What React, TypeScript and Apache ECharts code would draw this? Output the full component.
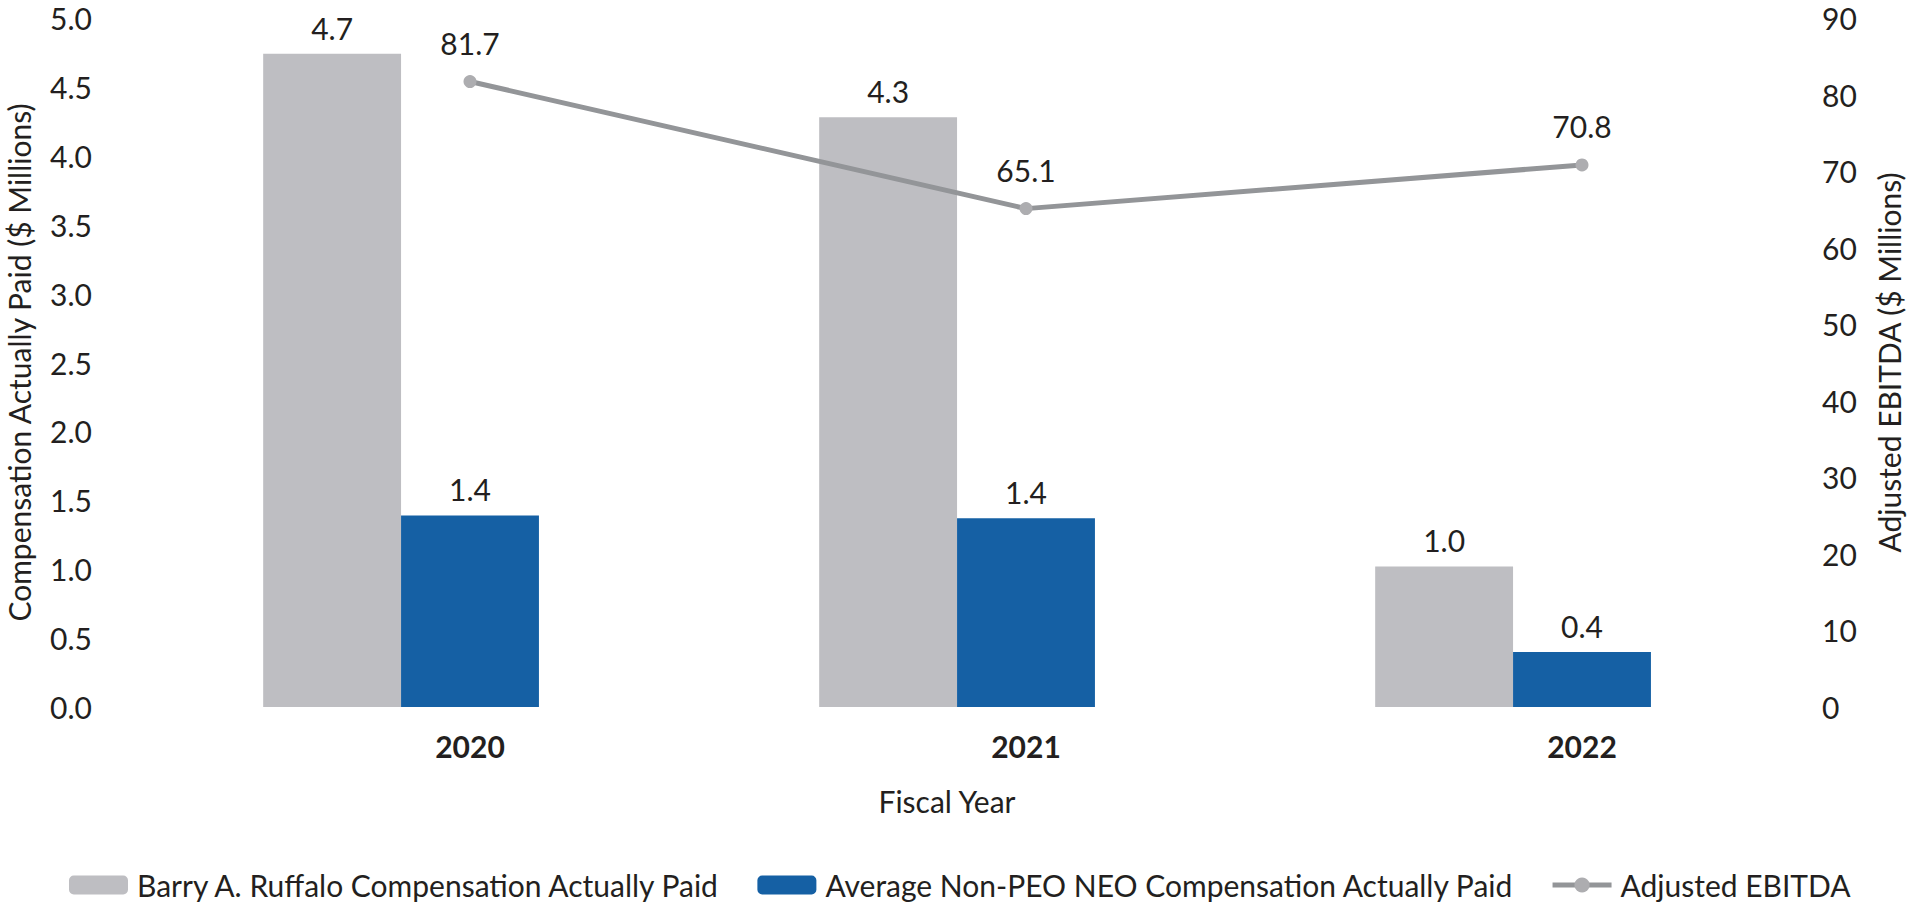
import React, { useEffect, useRef } from "react";
import * as echarts from "echarts";

const categories = ["2020", "2021", "2022"];
const ruffaloCap = [4.74, 4.28, 1.02];
const neoCap = [1.39, 1.37, 0.4];
const adjEbitda = [81.7, 65.1, 70.8];
const leftAxis = { min: 0, max: 5, step: 0.5 };
const rightAxis = { min: 0, max: 90, step: 10 };
const seriesNames = [
  "Barry A. Ruffalo Compensation Actually Paid",
  "Average Non-PEO NEO Compensation Actually Paid",
  "Adjusted EBITDA",
];

const FONT = "Lato";
const TXT = "#231F20";
const FS = 30;

export default function App() {
  const ref = useRef<HTMLDivElement>(null);
  useEffect(() => {
    document.body.style.margin = "0";
    const chart = echarts.init(ref.current!, null, { renderer: "svg" });
    const barLabel = {
      show: true,
      position: "top",
      distance: 11,
      fontFamily: FONT,
      fontSize: FS,
      color: TXT,
      formatter: (p: any) => Number(p.value).toFixed(1),
    };
    chart.setOption({
      animation: false,
      backgroundColor: "#ffffff",
      textStyle: { fontFamily: FONT, color: TXT },
      grid: {
        left: 192,
        right: 52,
        top: 18,
        bottom: 200,
        containLabel: false,
        outerBoundsMode: "none",
      },
      legend: {
        data: seriesNames,
        left: 64,
        top: 865,
        itemWidth: 59,
        itemHeight: 19,
        itemGap: 36,
        lineStyle: { width: 5 },
        textStyle: { fontFamily: FONT, fontSize: FS, color: TXT, padding: [0, 0, 0, 4] },
      },
      graphic: [
        {
          type: "text",
          x: 947,
          y: 801,
          style: {
            text: "Fiscal Year",
            fontFamily: FONT,
            fontSize: FS,
            fill: TXT,
            textAlign: "center",
            textVerticalAlign: "middle",
          },
        },
      ],
      xAxis: {
        type: "category",
        data: categories,
        axisLine: { show: false },
        axisTick: { show: false },
        axisLabel: { fontFamily: FONT, fontSize: FS, fontWeight: "bold", color: TXT, margin: 24 },
        splitLine: { show: false },
      },
      yAxis: [
        {
          type: "value",
          min: leftAxis.min,
          max: leftAxis.max,
          interval: leftAxis.step,
          name: "Compensation Actually Paid ($ Millions)",
          nameLocation: "middle",
          nameRotate: 90,
          nameGap: 158,
          nameTextStyle: { fontFamily: FONT, fontSize: FS, color: TXT },
          axisLine: { show: false },
          axisTick: { show: false },
          splitLine: { show: false },
          axisLabel: {
            fontFamily: FONT,
            fontSize: FS,
            color: TXT,
            margin: 100,
            formatter: (v: number) => v.toFixed(1),
          },
        },
        {
          type: "value",
          position: "right",
          min: rightAxis.min,
          max: rightAxis.max,
          interval: rightAxis.step,
          name: "Adjusted EBITDA ($ Millions)",
          nameLocation: "middle",
          nameRotate: 90,
          nameGap: 14,
          nameTextStyle: { fontFamily: FONT, fontSize: FS, color: TXT },
          axisLine: { show: false },
          axisTick: { show: false },
          splitLine: { show: false },
          axisLabel: { fontFamily: FONT, fontSize: FS, color: TXT, margin: -38 },
        },
      ],
      series: [
        {
          name: seriesNames[0],
          type: "bar",
          data: ruffaloCap,
          barWidth: "24.8%",
          barGap: "0%",
          itemStyle: { color: "#BEBEC2" },
          label: barLabel,
        },
        {
          name: seriesNames[1],
          type: "bar",
          data: neoCap,
          barWidth: "24.8%",
          barGap: "0%",
          itemStyle: { color: "#1560A4" },
          label: barLabel,
        },
        {
          name: "spacer",
          type: "bar",
          data: [],
          barWidth: "24.8%",
          barGap: "0%",
          silent: true,
          itemStyle: { color: "transparent" },
        },
        {
          name: seriesNames[2],
          type: "line",
          yAxisIndex: 1,
          data: adjEbitda,
          symbol: "circle",
          symbolSize: 13,
          lineStyle: { color: "#939598", width: 5 },
          itemStyle: { color: "#ADADB0" },
          label: {
            show: true,
            position: "top",
            distance: 17,
            fontFamily: FONT,
            fontSize: FS,
            color: TXT,
            formatter: (p: any) => Number(p.value).toFixed(1),
          },
        },
      ],
    });
    return () => chart.dispose();
  }, []);
  return <div ref={ref} style={{ width: 1912, height: 907 }} />;
}
